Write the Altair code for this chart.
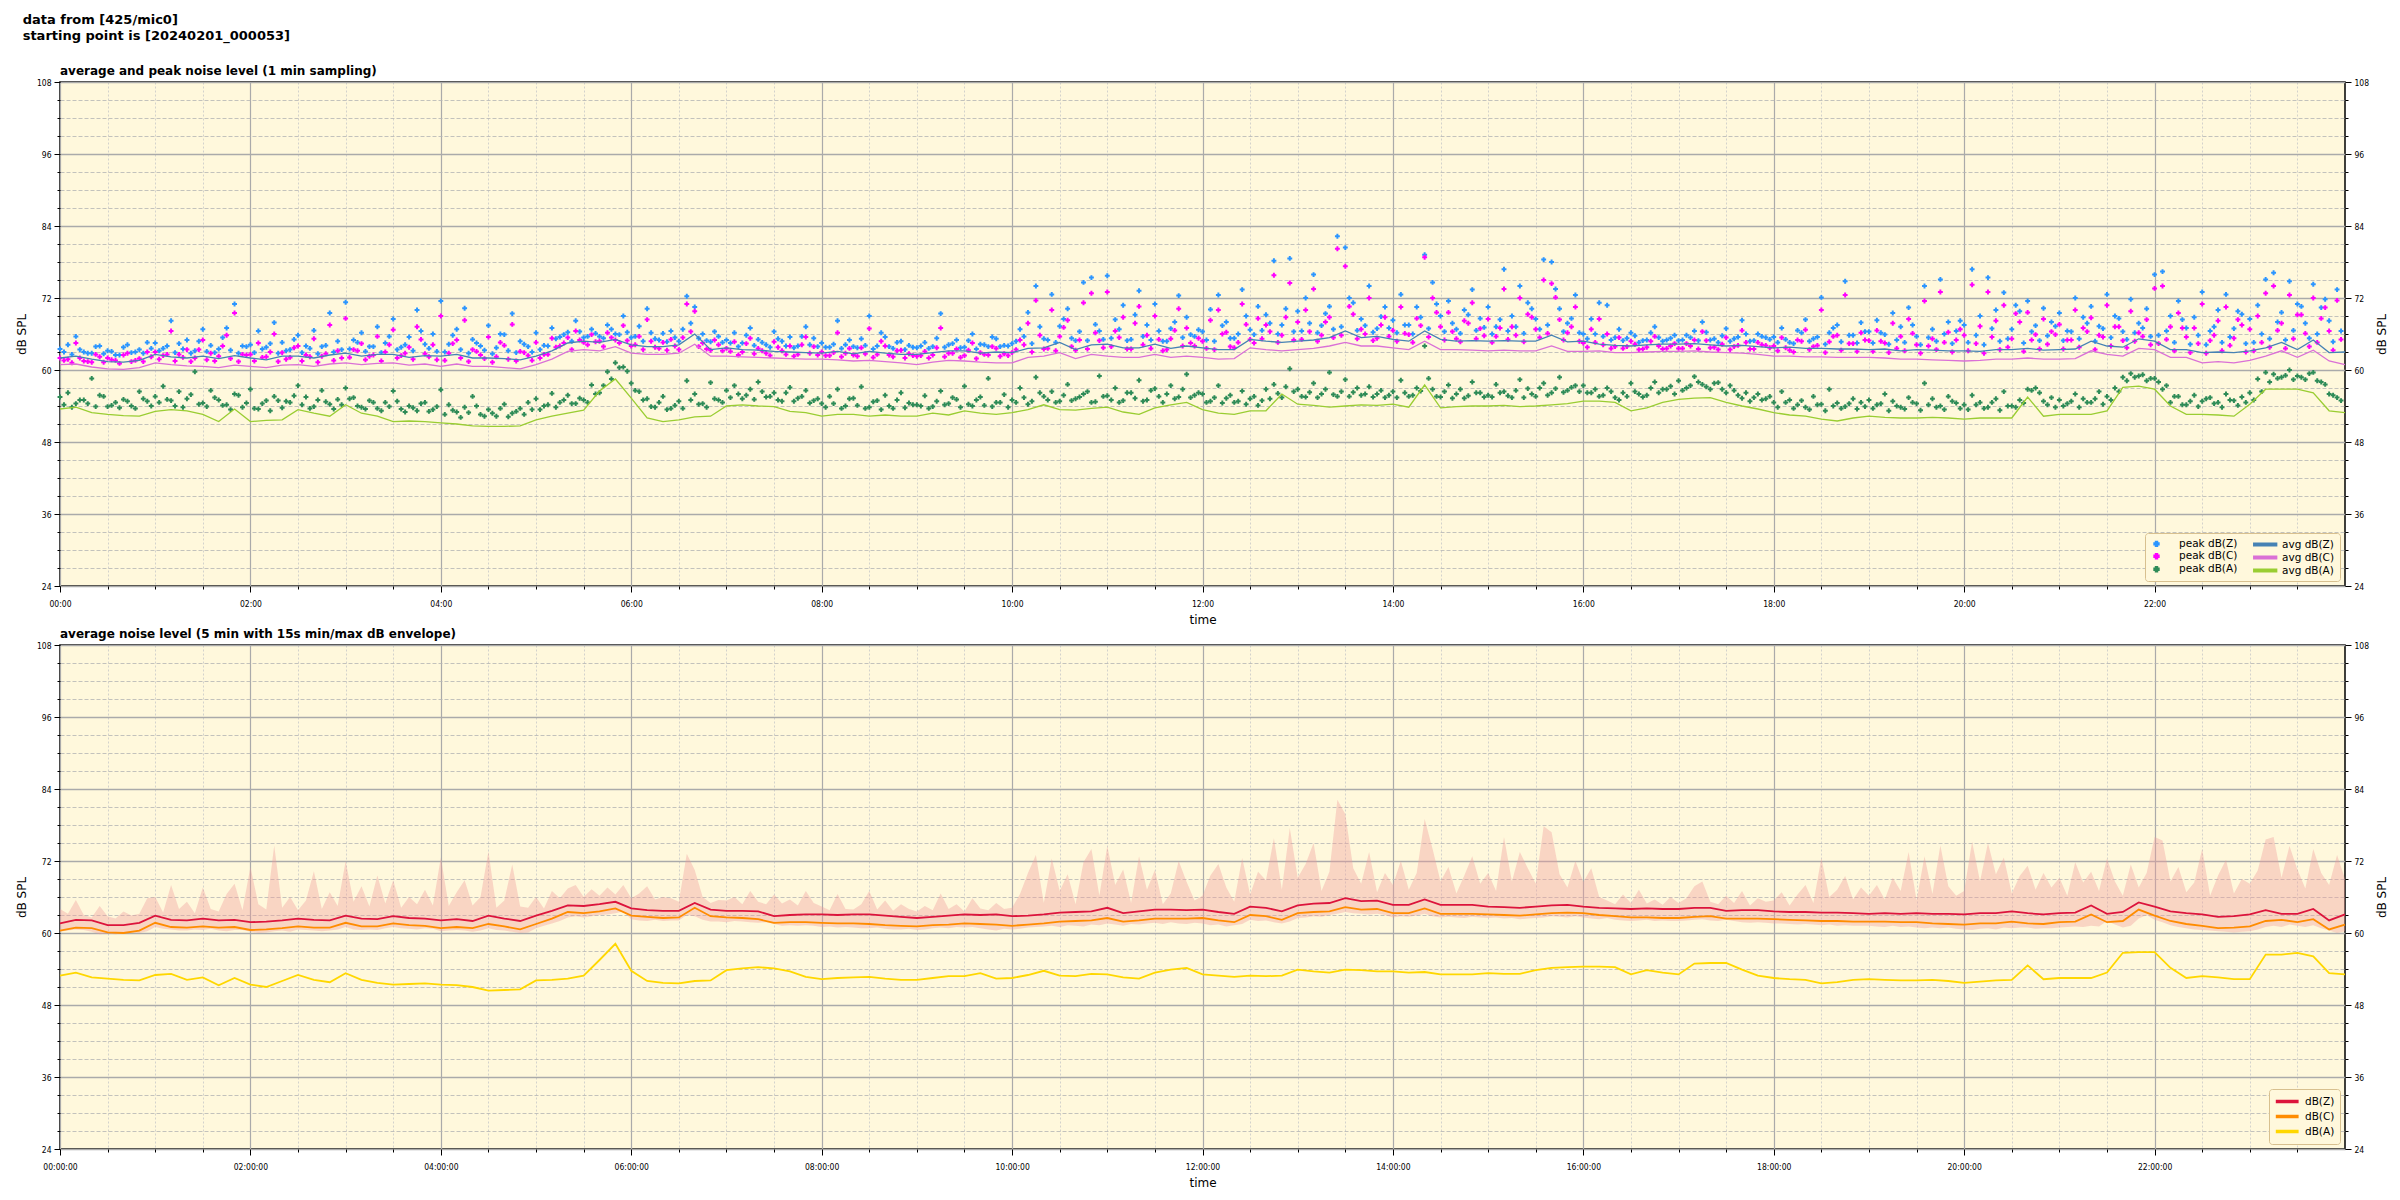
import altair as alt
import pandas as pd

FONT = "DejaVu Sans"
TICKFONT = "DejaVu Sans Condensed, DejaVu Sans"
BG = "#fff8dc"

# ---------------- sampling grids (hours since 00:00) ----------------
HOURS_10MIN = [i / 6 for i in range(145)]
HOURS_5MIN = [i / 12 for i in range(289)]
HOURS_5MIN_SHIFTED = [i / 12 + 1 / 24 for i in range(288)]

# ---------------- top panel: 1-min averages (read every 10 min) ----------------
AVG_Z = [
    62.0, 62.3, 61.8, 61.4, 61.3, 61.6,
    62.6, 62.2, 62.0, 62.3, 61.9, 62.4,
    62.0, 61.7, 62.3, 62.3, 62.0, 62.5,
    62.8, 62.3, 62.6, 62.6, 62.1, 62.4,
    62.3, 62.6, 62.0, 62.0, 61.9, 61.7,
    62.3, 63.2, 64.5, 64.8, 64.6, 65.1,
    64.2, 63.9, 63.9, 64.2, 66.0, 63.4,
    63.7, 63.4, 63.3, 63.1, 63.0, 62.9,
    62.8, 63.1, 62.7, 63.1, 62.8, 62.6,
    62.6, 62.9, 63.2, 63.2, 62.8, 63.0,
    62.9, 63.6, 63.7, 64.6, 63.4, 64.2,
    64.3, 63.7, 63.7, 64.3, 63.6, 64.0,
    63.7, 63.4, 63.4, 65.1, 64.8, 64.6,
    64.8, 65.0, 65.4, 66.5, 65.4, 65.6,
    65.1, 64.8, 66.5, 65.1, 64.8, 64.9,
    64.8, 64.9, 64.8, 64.8, 65.8, 64.7,
    64.8, 64.3, 64.1, 64.0, 64.2, 64.3,
    64.3, 64.4, 64.2, 64.0, 64.1, 63.9,
    63.7, 63.8, 63.6, 63.6, 63.5, 63.5,
    63.4, 63.5, 63.2, 63.4, 63.3, 63.2,
    63.2, 63.1, 63.4, 63.4, 63.6, 63.3,
    63.4, 63.5, 64.8, 64.0, 63.8, 65.2,
    64.8, 63.4, 63.4, 62.9, 63.0, 62.9,
    63.2, 63.7, 64.6, 63.4, 65.0, 62.9,
    63.0,
]
AVG_C = [
    60.9, 61.0, 60.5, 60.2, 60.1, 60.4,
    61.2, 60.9, 60.7, 60.6, 60.4, 60.8,
    60.6, 60.4, 60.8, 60.9, 60.6, 61.0,
    61.2, 60.9, 61.1, 61.2, 60.8, 61.0,
    60.6, 61.0, 60.6, 60.6, 60.4, 60.2,
    60.9, 61.8, 63.1, 63.4, 63.2, 63.9,
    62.8, 62.6, 62.6, 62.8, 64.3, 62.3,
    62.3, 62.2, 62.1, 62.0, 61.9, 61.8,
    61.8, 61.7, 61.5, 61.6, 61.4, 61.2,
    60.9, 61.3, 61.6, 61.5, 61.3, 61.2,
    61.2, 62.1, 62.3, 62.9, 61.9, 62.6,
    62.3, 62.1, 62.1, 62.6, 62.1, 62.3,
    62.1, 61.8, 61.9, 63.7, 63.4, 63.2,
    63.4, 63.6, 64.0, 64.6, 64.0, 64.0,
    63.7, 63.4, 64.8, 63.4, 63.4, 63.3,
    63.2, 63.3, 63.2, 63.2, 64.0, 63.1,
    63.1, 63.2, 62.9, 62.9, 63.0, 63.1,
    63.1, 63.2, 63.0, 62.9, 62.8, 62.6,
    62.3, 62.3, 62.2, 62.2, 62.1, 62.1,
    62.1, 62.0, 61.8, 61.8, 61.7, 61.6,
    61.5, 61.6, 61.8, 61.8, 62.0, 61.8,
    61.8, 61.9, 63.2, 62.6, 62.3, 63.6,
    63.4, 62.1, 62.1, 61.2, 61.4, 61.2,
    61.6, 62.3, 63.2, 62.1, 63.3, 61.5,
    60.9,
]
AVG_A = [
    53.5, 53.8, 52.9, 52.6, 52.4, 52.3,
    53.1, 53.4, 53.2, 52.6, 51.4, 53.5,
    51.4, 51.6, 51.7, 53.4, 52.8, 52.3,
    54.2, 52.8, 52.3, 51.4, 51.5, 51.4,
    51.2, 51.0, 50.7, 50.6, 50.6, 50.7,
    51.7, 52.3, 52.8, 53.3, 56.5, 58.5,
    55.3, 52.0, 51.4, 51.7, 52.2, 52.3,
    54.0, 54.2, 54.0, 53.9, 53.1, 52.9,
    52.3, 52.6, 52.6, 52.3, 52.5, 52.3,
    52.3, 52.8, 52.5, 53.2, 52.8, 52.6,
    52.9, 53.4, 54.2, 53.4, 53.3, 53.6,
    53.8, 53.0, 52.6, 53.7, 54.2, 54.6,
    53.4, 52.8, 52.6, 53.2, 53.2, 56.0,
    54.3, 54.1, 53.8, 54.0, 54.2, 54.1,
    54.3, 53.8, 57.5, 53.7, 53.9, 54.0,
    54.0, 54.1, 53.9, 54.0, 54.2, 54.4,
    54.8, 54.8, 54.6, 53.2, 53.7, 54.6,
    55.1, 55.3, 55.4, 54.6, 54.0, 53.5,
    52.9, 52.5, 52.3, 51.8, 51.5, 52.0,
    52.3, 52.1, 52.0, 52.0, 52.1, 52.0,
    51.8, 52.0, 52.0, 52.0, 55.5, 52.3,
    52.6, 52.6, 52.6, 53.2, 57.1, 57.3,
    56.8, 54.0, 52.6, 52.6, 52.5, 52.3,
    54.3, 56.8, 56.8, 56.8, 56.2, 53.2,
    52.9,
]

# ---------------- top panel: 1-min peaks (read every 5 min, two interleaved sets) ----------------
PEAK_Z = [
    63.5, 64.2, 65.6, 63.0, 62.8, 64.0, 63.2, 62.5, 63.8, 62.9, 63.4, 64.6,
    64.5, 63.6, 68.2, 64.4, 65.0, 63.2, 66.8, 64.1, 63.5, 67.0, 71.0, 64.0,
    64.2, 66.5, 63.8, 67.9, 64.6, 63.4, 65.8, 64.0, 66.6, 63.9, 69.5, 64.8,
    71.3, 65.0, 66.2, 63.9, 67.2, 64.5, 68.5, 63.8, 65.5, 70.0, 64.3, 66.0,
    71.5, 64.3, 66.8, 70.3, 65.1, 64.0, 67.4, 63.7, 65.9, 69.4, 64.8, 63.9,
    66.2, 64.1, 67.0, 65.5, 66.3, 68.2, 65.4, 66.8, 65.6, 67.5, 66.0, 69.0,
    65.4, 67.3, 70.2, 65.2, 66.1, 66.5, 64.8, 72.3, 70.5, 66.0, 64.7, 65.6,
    65.0, 66.2, 64.5, 67.0, 65.1, 64.2, 66.4, 64.8, 65.5, 64.0, 67.2, 65.3,
    64.5, 63.8, 68.2, 64.2, 63.9, 65.2, 69.0, 64.0, 65.5, 63.6, 64.8, 64.1,
    63.7, 64.6, 63.9, 69.4, 64.2, 65.0, 63.8, 66.0, 64.3, 63.9, 65.2, 64.1,
    64.4, 66.8, 69.6, 74.0, 65.2, 72.6, 67.3, 70.2, 64.9, 74.6, 75.4, 66.5,
    75.7, 68.4, 70.8, 65.1, 73.2, 67.5, 71.0, 64.8, 66.9, 72.4, 68.8, 65.6,
    66.4, 70.1, 72.5, 68.0, 65.3, 73.4, 66.7, 70.6, 69.2, 78.2, 67.5, 78.6,
    69.8, 72.0, 75.9, 67.4, 70.6, 82.3, 80.4, 71.2, 68.5, 74.0, 66.9, 70.5,
    68.3, 72.6, 67.5, 70.5, 79.2, 74.6, 69.0, 71.5, 66.8, 70.0, 73.4, 68.6,
    70.5, 67.2, 76.8, 69.0, 74.0, 71.2, 68.5, 78.4, 78.0, 70.2, 67.8, 72.5,
    66.0, 68.5, 71.2, 70.8, 65.4, 64.9, 66.2, 64.6, 65.0, 67.2, 64.8, 65.3,
    64.9, 65.8, 66.5, 68.0, 65.0, 64.6, 66.9, 65.2, 68.3, 64.8, 66.0, 65.4,
    65.5, 67.0, 64.6, 66.6, 68.4, 65.2, 72.1, 66.2, 67.5, 74.8, 65.8, 67.9,
    66.4, 68.3, 65.9, 69.5, 67.2, 70.4, 65.6, 74.0, 66.8, 75.1, 68.0, 66.5,
    67.5, 76.8, 69.0, 75.4, 70.0, 72.9, 66.8, 69.8, 71.5, 67.4, 70.3, 68.0,
    69.5, 66.5, 72.0, 68.8, 70.6, 67.3, 72.6, 69.0, 66.4, 71.8, 67.8, 70.2,
    75.9, 76.4, 69.0, 71.5, 67.0, 68.8, 73.0, 66.5, 70.0, 72.6, 66.9, 69.3,
    68.5, 70.8, 75.1, 76.2, 69.6, 74.8, 71.0, 67.8, 74.3, 70.4, 68.2, 73.4,
]
PEAK_Z2 = [
    63.0, 62.6, 63.4, 62.8, 63.9, 62.7, 63.1, 62.5, 64.2, 63.0, 62.8, 63.6,
    63.2, 64.0, 62.9, 63.5, 62.8, 64.8, 63.1, 62.9, 65.4, 63.3, 62.8, 63.9,
    62.9, 63.5, 64.4, 62.8, 63.2, 65.1, 62.9, 63.6, 62.7, 64.1, 63.0, 63.4,
    63.5, 64.6, 63.1, 63.9, 62.9, 65.6, 63.4, 64.2, 63.2, 66.5, 63.6, 63.1,
    63.0, 65.8, 63.4, 62.8, 64.5, 63.3, 62.7, 66.0, 63.2, 62.9, 64.3, 63.0,
    63.4, 64.0, 65.2, 65.9, 64.8, 66.4, 65.6, 66.1, 65.3, 66.8, 65.9, 66.3,
    65.6, 64.8, 66.2, 65.0, 64.7, 65.4, 66.8, 67.8, 65.3, 64.9, 66.4, 64.6,
    64.5, 63.9, 65.8, 64.1, 64.6, 63.8, 65.2, 64.0, 63.7, 65.6, 64.2, 63.9,
    63.8, 64.3, 63.6, 65.0, 63.7, 64.1, 63.5, 66.2, 63.9, 64.6, 63.4, 63.8,
    64.0, 63.6, 65.3, 63.8, 64.4, 63.7, 64.9, 63.5, 64.2, 65.5, 63.9, 64.0,
    64.8, 65.6, 64.4, 67.2, 65.0, 64.6, 68.5, 65.3, 66.4, 64.9, 67.6, 65.1,
    65.3, 66.8, 64.9, 69.2, 65.6, 65.0, 66.5, 64.8, 68.0, 65.4, 65.9, 66.7,
    65.0, 64.8, 67.4, 65.3, 66.0, 69.0, 65.9, 66.6, 67.8, 66.0, 70.2, 66.4,
    66.5, 67.8, 66.2, 69.4, 66.8, 67.2, 72.0, 66.6, 67.4, 66.3, 68.9, 67.0,
    66.2, 67.5, 66.0, 68.8, 66.9, 71.0, 66.4, 67.8, 66.1, 69.2, 66.6, 67.1,
    66.0, 68.4, 66.5, 67.2, 66.1, 70.2, 66.8, 67.5, 73.5, 66.4, 68.6, 66.2,
    65.2, 66.0, 65.6, 65.0, 66.8, 65.3, 65.7, 64.9, 66.2, 65.4, 65.0, 65.8,
    65.0, 65.4, 64.9, 66.3, 65.2, 65.7, 64.8, 65.5, 66.0, 64.9, 65.6, 65.1,
    64.6, 65.1, 64.4, 66.2, 64.8, 65.5, 64.3, 67.0, 64.7, 65.8, 64.5, 66.4,
    64.5, 66.2, 64.3, 65.0, 64.6, 67.5, 64.2, 65.4, 64.8, 66.0, 64.4, 68.2,
    64.6, 65.8, 64.2, 66.9, 64.8, 65.2, 70.8, 64.5, 66.4, 64.9, 65.7, 67.3,
    64.9, 66.4, 65.2, 67.8, 64.8, 66.9, 65.4, 68.6, 65.1, 66.2, 67.0, 65.6,
    65.8, 66.5, 64.6, 68.4, 64.3, 65.8, 64.2, 67.2, 64.6, 65.5, 69.8, 64.4,
    64.6, 66.0, 65.2, 68.0, 65.0, 66.6, 70.6, 65.3, 66.0, 71.8, 64.7, 66.5,
]
PEAK_C = [
    62.0, 61.8, 64.5, 61.5, 61.3, 62.2, 62.0, 61.6, 62.5, 61.4, 61.9, 63.0,
    63.0, 62.4, 66.5, 62.6, 63.4, 62.0, 65.0, 62.8, 62.3, 65.8, 69.5, 62.6,
    62.6, 64.5, 62.2, 66.0, 62.9, 62.1, 64.0, 62.5, 65.2, 62.3, 67.5, 63.2,
    68.6, 63.4, 64.4, 62.3, 65.6, 63.0, 66.7, 62.4, 63.8, 67.2, 62.7, 64.2,
    69.0, 62.8, 65.0, 68.3, 63.4, 62.5, 65.5, 62.2, 64.1, 67.6, 63.1, 62.4,
    64.6, 62.6, 65.3, 64.0, 65.4, 66.5, 64.6, 65.9, 64.8, 66.2, 65.0, 67.4,
    64.0, 65.6, 68.4, 63.8, 64.6, 65.1, 63.4, 71.0, 69.8, 64.5, 63.3, 64.2,
    63.6, 64.7, 63.0, 65.3, 63.6, 62.8, 64.7, 63.2, 64.0, 62.6, 65.5, 63.9,
    63.0, 62.4, 66.2, 62.8, 62.5, 63.7, 66.9, 62.6, 64.0, 62.2, 63.3, 62.7,
    62.3, 63.1, 62.5, 67.0, 62.8, 63.5, 62.4, 64.5, 62.9, 62.5, 63.6, 62.7,
    62.9, 65.0, 67.8, 71.6, 63.5, 70.0, 65.6, 68.3, 63.3, 71.2, 72.8, 64.9,
    73.0, 66.5, 68.8, 63.5, 70.6, 65.8, 69.0, 63.2, 65.2, 70.2, 67.0, 64.0,
    64.8, 68.3, 70.0, 66.3, 63.7, 71.0, 65.1, 68.6, 67.5, 75.8, 65.8, 74.5,
    68.0, 70.0, 73.5, 65.8, 68.8, 80.2, 77.3, 69.3, 66.8, 72.0, 65.3, 68.8,
    66.6, 70.5, 65.9, 68.6, 78.8, 72.0, 67.2, 69.6, 65.2, 68.2, 71.2, 66.9,
    68.5, 65.6, 73.5, 67.2, 72.0, 69.3, 66.8, 75.0, 74.4, 68.4, 66.2, 70.5,
    64.5, 66.8, 68.5, 66.0, 63.9, 63.6, 64.8, 63.4, 63.8, 65.6, 63.5, 64.0,
    63.6, 64.4, 65.0, 66.4, 63.7, 63.4, 65.4, 63.9, 66.6, 63.5, 64.6, 64.1,
    64.0, 65.4, 63.3, 65.0, 66.7, 63.9, 70.0, 64.7, 65.8, 72.5, 64.4, 66.2,
    64.9, 66.6, 64.5, 67.8, 65.6, 68.5, 64.2, 71.5, 65.2, 73.0, 66.3, 65.0,
    65.8, 74.2, 67.3, 73.0, 68.2, 70.8, 65.2, 68.0, 69.6, 65.9, 68.5, 66.4,
    67.6, 65.0, 70.0, 67.0, 68.7, 65.8, 70.8, 67.2, 64.9, 69.8, 66.2, 68.4,
    73.6, 74.0, 67.2, 69.5, 65.5, 67.0, 71.0, 64.9, 68.2, 70.5, 65.3, 67.5,
    66.8, 69.0, 72.8, 74.0, 67.8, 72.5, 69.2, 66.1, 72.0, 68.6, 66.5, 71.6,
]
PEAK_C2 = [
    61.6, 61.2, 62.0, 61.4, 62.6, 61.3, 61.7, 61.1, 62.8, 61.6, 61.4, 62.2,
    61.8, 62.6, 61.5, 62.1, 61.4, 63.4, 61.7, 61.5, 64.0, 61.9, 61.4, 62.5,
    61.5, 62.1, 63.0, 61.4, 61.8, 63.7, 61.5, 62.2, 61.3, 62.7, 61.6, 62.0,
    62.1, 63.2, 61.7, 62.5, 61.5, 64.2, 62.0, 62.8, 61.8, 65.1, 62.2, 61.7,
    61.6, 64.4, 62.0, 61.4, 63.1, 61.9, 61.3, 64.6, 61.8, 61.5, 62.9, 61.6,
    62.0, 62.6, 63.8, 64.5, 63.4, 65.0, 64.2, 64.7, 63.9, 65.4, 64.5, 64.9,
    64.2, 63.4, 64.8, 63.6, 63.3, 64.0, 65.4, 66.4, 63.9, 63.5, 65.0, 63.2,
    63.1, 62.5, 64.4, 62.7, 63.2, 62.4, 63.8, 62.6, 62.3, 64.2, 62.8, 62.5,
    62.4, 62.9, 62.2, 63.6, 62.3, 62.7, 62.1, 64.8, 62.5, 63.2, 62.0, 62.4,
    62.4, 62.0, 63.7, 62.2, 62.8, 62.1, 63.3, 61.9, 62.6, 63.9, 62.3, 62.4,
    63.4, 64.2, 63.0, 65.8, 63.6, 63.2, 67.1, 63.9, 65.0, 63.5, 66.2, 63.7,
    63.9, 65.4, 63.5, 67.8, 64.2, 63.6, 65.1, 63.4, 66.6, 64.0, 64.5, 65.3,
    63.6, 63.4, 66.0, 63.9, 64.6, 67.6, 64.5, 65.2, 66.4, 64.6, 68.8, 65.0,
    65.1, 66.4, 64.8, 68.0, 65.4, 65.8, 70.6, 65.2, 66.0, 64.9, 67.5, 65.6,
    64.8, 66.1, 64.6, 67.4, 65.5, 69.6, 65.0, 66.4, 64.7, 67.8, 65.2, 65.7,
    64.6, 67.0, 65.1, 65.8, 64.7, 68.8, 65.4, 66.1, 72.1, 65.0, 67.2, 64.8,
    63.8, 64.6, 64.2, 63.6, 65.4, 63.9, 64.3, 63.5, 64.8, 64.0, 63.6, 64.4,
    63.6, 64.0, 63.5, 64.9, 63.8, 64.3, 63.4, 64.1, 64.6, 63.5, 64.2, 63.7,
    63.2, 63.7, 63.0, 64.8, 63.4, 64.1, 62.9, 65.6, 63.3, 64.4, 63.1, 65.0,
    63.1, 64.8, 62.9, 63.6, 63.2, 66.1, 62.8, 64.0, 63.4, 64.6, 63.0, 66.8,
    63.2, 64.4, 62.8, 65.5, 63.4, 63.8, 69.4, 63.1, 65.0, 63.5, 64.3, 65.9,
    63.5, 65.0, 63.8, 66.4, 63.4, 65.5, 64.0, 67.2, 63.7, 64.8, 65.6, 64.2,
    64.4, 65.1, 63.2, 67.0, 62.9, 64.4, 62.8, 65.8, 63.2, 64.1, 68.4, 63.0,
    63.2, 64.6, 63.8, 66.6, 63.6, 65.2, 69.2, 63.9, 64.6, 70.4, 63.3, 65.1,
]
PEAK_A = [
    55.5, 56.2, 54.4, 55.0, 58.6, 55.8, 53.9, 54.6, 55.1, 54.0, 56.4, 54.8,
    55.6, 57.3, 54.9, 56.4, 55.2, 59.7, 54.5, 56.6, 55.0, 54.2, 56.0, 53.8,
    56.8, 53.5, 54.9, 55.6, 53.7, 54.6, 57.4, 55.5, 53.9, 56.6, 54.3, 55.1,
    57.0, 55.4, 53.8, 54.9, 53.6, 54.6, 56.5, 53.5, 54.0, 53.2, 54.6, 53.4,
    56.7, 54.2, 53.0, 53.8, 55.6, 52.6, 53.4, 52.3, 54.3, 52.8, 53.6, 54.6,
    55.2, 54.0, 56.1, 54.6, 55.8, 54.4, 55.0, 57.5, 56.2, 59.7, 61.2, 60.5,
    57.8, 56.4, 55.2, 53.8, 55.6, 53.6, 54.8, 58.2, 56.0, 54.4, 57.9, 55.0,
    56.6, 57.4, 55.2, 56.8, 58.0, 55.5, 56.2, 54.8, 57.1, 55.3, 56.6, 54.9,
    54.4, 55.6, 56.8, 54.0, 55.3, 57.2, 53.8, 54.9, 55.8, 53.6, 56.2, 54.5,
    54.2, 55.7, 53.9, 56.5, 54.4, 55.1, 57.3, 54.0, 55.5, 58.6, 54.6, 55.9,
    55.0, 57.0, 54.3, 58.8, 55.6, 56.4, 54.8, 57.6, 55.2, 56.0, 54.6, 59.0,
    55.7, 57.0, 54.9, 56.2, 58.3, 55.0, 56.9, 54.6, 57.4, 55.5, 59.3, 55.8,
    56.0, 54.8, 57.4, 55.3, 54.6, 56.5, 55.2, 54.1, 56.8, 57.6, 55.4, 60.2,
    56.8, 55.5, 57.8, 56.0, 59.6, 55.6, 58.4, 56.3, 55.8, 57.2, 56.0, 55.4,
    56.4, 58.3, 55.6, 57.0, 64.0, 56.8, 55.5, 57.5, 56.0, 55.3, 58.0, 56.2,
    55.8, 57.6, 56.4, 55.4, 58.4, 56.9, 55.6, 57.8, 56.2, 58.8, 56.6, 57.4,
    57.4, 56.2, 55.6, 57.0, 55.4, 56.2, 57.8, 56.0, 55.8, 58.0, 56.8, 57.3,
    58.2, 57.0, 58.9, 57.6, 56.8, 57.9, 56.2, 56.6, 55.3, 54.8, 56.0, 55.2,
    54.6, 56.4, 55.0, 54.2, 53.8, 55.6, 54.3, 56.8, 54.5, 53.9, 55.2, 54.6,
    55.0, 54.2, 56.0, 54.8, 53.8, 55.4, 54.4, 57.8, 55.2, 54.0, 55.6, 54.5,
    54.2, 55.8, 54.6, 53.8, 55.2, 56.4, 54.0, 55.0, 56.8, 57.0, 54.8, 55.4,
    55.0, 54.4, 56.0, 55.2, 54.6, 56.4, 55.6, 57.0, 58.8, 59.4, 59.0, 58.2,
    58.6, 56.8, 54.6, 55.6, 54.2, 55.8, 54.8, 55.4, 54.6, 56.0, 54.9, 55.5,
    56.2, 58.5, 59.6, 59.3, 58.8, 60.0, 59.0, 58.4, 59.6, 58.0, 56.0, 55.4,
]
PEAK_A2 = [
    54.2, 53.8, 55.0, 54.4, 53.9, 55.6, 54.1, 53.7, 54.8, 53.6, 55.2, 54.0,
    54.6, 55.1, 54.0, 53.8, 55.9, 54.3, 53.9, 55.4, 54.1, 53.4, 55.8, 54.5,
    53.6, 54.4, 53.2, 54.9, 54.8, 55.7, 54.2, 53.6, 55.0, 54.7, 53.5, 54.2,
    55.2, 54.0, 53.5, 54.6, 53.2, 53.9, 54.8, 53.0, 53.7, 54.4, 53.1, 53.9,
    52.6, 53.3, 52.1, 52.9, 54.0, 52.3, 52.8, 53.6, 52.2, 53.1, 52.6, 53.4,
    53.4, 54.2, 53.8, 55.0, 54.4, 55.3, 54.6, 56.0, 57.4, 58.5, 60.4, 59.8,
    56.6, 55.0, 53.9, 54.6, 53.4, 54.1, 53.6, 55.0, 54.3, 53.8, 55.2, 54.6,
    55.4, 56.0, 55.8, 55.1, 56.4, 55.6, 55.0, 56.2, 54.8, 55.6, 54.5, 55.2,
    53.8, 54.4, 53.6, 55.2, 54.1, 53.6, 54.7, 53.4, 54.0, 55.0, 53.7, 54.2,
    54.0, 53.6, 54.8, 54.2, 55.4, 53.8, 54.3, 55.0, 54.1, 53.9, 54.6, 53.8,
    54.6, 55.4, 54.8, 56.2, 55.0, 54.6, 55.8, 54.9, 55.5, 56.4, 54.7, 55.6,
    55.0, 54.6, 56.2, 55.3, 54.8, 56.6, 55.6, 56.0, 55.2, 56.8, 55.4, 56.2,
    54.6, 55.4, 54.5, 55.8, 54.8, 54.3, 55.6, 54.9, 55.2, 56.1, 57.2, 56.4,
    55.6, 56.3, 55.4, 56.8, 55.9, 56.4, 55.6, 57.0, 56.0, 55.5, 56.6, 55.8,
    55.4, 56.2, 55.8, 56.5, 58.6, 55.6, 56.4, 55.3, 56.8, 55.7, 56.2, 55.5,
    55.5, 56.2, 55.7, 56.6, 55.4, 56.0, 57.0, 55.8, 56.9, 56.3, 57.1, 56.4,
    56.2, 56.8, 55.8, 56.4, 55.0, 55.6, 56.4, 55.5, 57.0, 56.2, 56.8, 56.0,
    56.6, 57.4, 58.0, 57.2, 57.8, 56.8, 57.4, 55.8, 56.2, 55.4, 55.0, 55.6,
    53.8, 54.6, 53.6, 54.9, 53.4, 54.2, 53.2, 54.0, 53.6, 54.4, 53.5, 53.9,
    53.6, 54.4, 53.2, 54.0, 53.5, 54.6, 53.3, 54.2, 53.8, 53.4, 54.8, 53.6,
    53.4, 54.2, 53.6, 54.6, 53.3, 54.0, 53.8, 54.5, 56.6, 56.2, 54.2, 53.8,
    54.0, 54.8, 53.8, 54.6, 55.2, 54.3, 55.0, 56.4, 58.2, 58.8, 59.2, 58.6,
    58.0, 57.4, 55.6, 54.2, 54.8, 53.9, 55.2, 54.4, 53.8, 55.0, 54.1, 54.6,
    55.0, 56.4, 58.0, 58.6, 59.1, 58.4, 58.8, 59.4, 58.2, 57.6, 55.8, 54.9,
]

# ---------------- bottom panel: 5-min averages (read every 10 min) ----------------
B_Z = [
    61.6, 62.2, 62.1, 61.3, 61.3, 61.7,
    62.9, 62.2, 62.1, 62.4, 62.1, 62.2,
    61.8, 61.9, 62.1, 62.4, 62.2, 62.1,
    62.9, 62.4, 62.3, 62.8, 62.5, 62.4,
    62.1, 62.3, 62.0, 62.9, 62.4, 62.0,
    62.9, 63.7, 64.6, 64.5, 64.8, 65.2,
    64.1, 63.8, 63.7, 63.7, 65.0, 63.9,
    63.7, 63.7, 63.6, 62.8, 63.0, 63.1,
    63.1, 63.0, 63.1, 63.1, 62.9, 62.7,
    62.5, 62.7, 62.9, 63.1, 63.0, 63.1,
    62.8, 62.9, 63.1, 63.4, 63.5, 63.6,
    64.2, 63.3, 63.6, 63.9, 63.9, 63.8,
    63.9, 63.5, 63.2, 64.4, 64.2, 63.6,
    64.6, 64.9, 65.0, 65.8, 65.3, 65.4,
    64.7, 64.7, 65.6, 64.7, 64.7, 64.7,
    64.4, 64.3, 64.2, 64.4, 64.6, 64.7,
    64.4, 64.2, 64.1, 64.0, 64.1, 64.0,
    64.0, 64.2, 64.2, 63.7, 63.8, 63.8,
    63.6, 63.5, 63.5, 63.4, 63.4, 63.3,
    63.2, 63.3, 63.2, 63.3, 63.2, 63.2,
    63.1, 63.3, 63.3, 63.6, 63.3, 63.1,
    63.3, 63.4, 64.6, 63.2, 63.5, 65.1,
    64.4, 63.6, 63.3, 63.1, 62.7, 62.8,
    63.1, 63.8, 63.2, 63.2, 64.0, 62.1,
    63.1,
]
B_C = [
    60.4, 60.9, 60.8, 60.1, 60.0, 60.4,
    61.7, 61.0, 60.9, 61.1, 60.9, 61.0,
    60.5, 60.6, 60.8, 61.1, 60.9, 60.9,
    61.7, 61.1, 61.1, 61.6, 61.3, 61.2,
    60.8, 61.0, 60.8, 61.5, 61.1, 60.6,
    61.5, 62.4, 63.5, 63.3, 63.6, 64.1,
    62.9, 62.7, 62.5, 62.6, 64.2, 62.8,
    62.6, 62.5, 62.3, 61.7, 61.8, 61.8,
    61.7, 61.6, 61.6, 61.5, 61.3, 61.2,
    61.1, 61.3, 61.4, 61.6, 61.5, 61.4,
    61.2, 61.4, 61.6, 61.9, 62.0, 62.1,
    62.5, 61.9, 62.1, 62.4, 62.4, 62.4,
    62.5, 62.1, 61.8, 63.0, 62.8, 62.2,
    63.3, 63.5, 63.6, 64.3, 63.9, 64.0,
    63.3, 63.3, 64.1, 63.2, 63.2, 63.2,
    63.1, 63.0, 62.9, 63.1, 63.3, 63.4,
    63.3, 63.0, 62.8, 62.6, 62.6, 62.5,
    62.5, 62.7, 62.8, 62.4, 62.4, 62.4,
    62.3, 62.2, 62.1, 62.0, 62.0, 61.9,
    61.9, 61.9, 61.8, 61.8, 61.6, 61.5,
    61.4, 61.6, 61.6, 61.9, 61.6, 61.5,
    61.8, 61.9, 63.1, 61.8, 62.0, 63.9,
    62.9, 62.0, 61.5, 61.2, 60.8, 60.9,
    61.1, 62.0, 62.2, 61.8, 62.3, 60.6,
    61.4,
]
B_A = [
    52.9, 53.4, 52.6, 52.4, 52.2, 52.1,
    53.0, 53.2, 52.2, 52.6, 51.3, 52.5,
    51.4, 51.0, 52.0, 53.0, 52.2, 51.8,
    53.3, 52.2, 51.7, 51.4, 51.5, 51.6,
    51.4, 51.3, 51.0, 50.4, 50.5, 50.6,
    52.1, 52.2, 52.4, 52.9, 55.5, 58.2,
    53.7, 52.0, 51.7, 51.6, 52.0, 52.1,
    53.8, 54.1, 54.3, 54.1, 53.6, 52.7,
    52.3, 52.5, 52.6, 52.7, 52.4, 52.2,
    52.2, 52.5, 52.8, 52.8, 53.3, 52.4,
    52.5, 53.0, 53.7, 52.9, 52.8, 53.2,
    53.1, 52.6, 52.4, 53.4, 53.9, 54.2,
    53.1, 52.9, 52.7, 52.9, 52.8, 52.9,
    53.9, 53.6, 53.4, 53.9, 53.8, 53.6,
    53.6, 53.4, 53.5, 53.1, 53.1, 53.1,
    53.3, 53.2, 53.2, 53.8, 54.2, 54.3,
    54.4, 54.4, 54.3, 53.1, 53.8, 53.4,
    53.1, 54.9, 55.0, 55.0, 53.9, 52.9,
    52.5, 52.3, 52.2, 51.6, 51.8, 52.2,
    52.3, 52.2, 52.1, 52.1, 52.2, 52.0,
    51.7, 51.9, 52.1, 52.2, 54.6, 52.3,
    52.5, 52.5, 52.5, 53.4, 56.7, 56.8,
    56.8, 54.2, 52.5, 52.8, 52.6, 52.3,
    52.3, 56.4, 56.4, 56.7, 56.1, 53.3,
    53.1,
]

# ---------------- bottom panel: 15 s min/max envelope (read every 5 min) ----------------
ENV_MAX = [
    64.0, 63.2, 65.5, 63.0, 62.6, 64.5, 62.8, 62.4, 63.6, 62.9, 63.2, 65.8,
    66.0, 63.4, 68.0, 64.0, 65.2, 63.3, 67.6, 64.0, 63.6, 66.5, 68.2, 63.8,
    71.0, 64.8, 63.9, 74.6, 64.2, 66.0, 63.8, 65.4, 70.3, 64.0, 66.8, 64.5,
    72.0, 65.2, 67.8, 64.4, 69.6, 64.9, 68.8, 64.2, 66.0, 64.8, 67.2, 64.6,
    72.6, 64.5, 66.8, 68.8, 64.6, 66.0, 73.6, 64.2, 65.4, 71.4, 64.4, 64.2,
    66.0, 64.1, 67.0, 65.8, 67.4, 68.0, 66.0, 67.3, 66.2, 67.6, 66.4, 68.0,
    65.8, 66.6, 67.8, 65.6, 66.0, 65.8, 65.2, 73.2, 70.5, 66.0, 65.0, 65.5,
    65.4, 66.0, 64.8, 67.0, 65.2, 64.8, 66.4, 64.9, 65.6, 64.6, 67.0, 65.0,
    64.4, 63.8, 66.5, 64.0, 63.9, 64.8, 67.0, 63.9, 65.4, 63.7, 64.8, 64.0,
    63.6, 64.5, 63.8, 66.6, 64.0, 64.8, 63.6, 65.8, 64.1, 63.8, 65.0, 64.0,
    64.2, 66.5, 70.0, 73.0, 65.0, 72.4, 67.0, 69.8, 64.8, 71.8, 74.0, 66.2,
    74.5, 68.0, 70.6, 65.0, 72.8, 67.2, 70.5, 64.8, 66.6, 72.0, 68.5, 65.4,
    66.2, 69.6, 71.5, 67.6, 65.2, 72.5, 66.4, 70.2, 68.8, 75.8, 67.2, 77.5,
    69.2, 71.5, 75.0, 67.0, 70.2, 82.2, 79.8, 70.8, 68.2, 73.5, 66.8, 70.0,
    68.0, 72.0, 67.2, 70.0, 79.0, 74.0, 68.6, 71.0, 66.6, 69.6, 72.8, 68.2,
    70.0, 67.0, 76.0, 68.6, 73.5, 70.8, 68.2, 77.8, 76.8, 69.8, 67.6, 72.0,
    68.5, 70.8, 66.0, 65.4, 64.8, 66.4, 65.0, 67.2, 64.9, 65.6, 64.7, 66.0,
    65.0, 65.8, 67.8, 68.6, 65.2, 64.8, 66.2, 65.0, 67.0, 64.6, 65.8, 65.2,
    65.4, 66.8, 64.6, 66.4, 68.0, 65.0, 72.5, 66.0, 67.2, 69.5, 65.6, 67.6,
    66.2, 68.0, 65.6, 69.2, 67.0, 73.5, 65.4, 72.8, 66.5, 74.6, 67.8, 66.2,
    67.0, 75.2, 68.6, 75.0, 69.8, 72.6, 66.6, 69.5, 71.2, 67.2, 70.0, 67.6,
    69.2, 66.2, 71.8, 68.4, 70.2, 67.0, 72.4, 68.6, 66.2, 71.4, 67.6, 70.0,
    76.0, 75.4, 68.6, 71.0, 66.8, 68.4, 74.0, 66.2, 69.6, 72.2, 66.6, 69.0,
    68.2, 70.4, 75.6, 76.0, 69.2, 74.5, 70.6, 67.4, 74.0, 70.0, 68.0, 73.0,
    69.0,
]
ENV_MIN = [
    60.2, 60.4, 60.6, 60.5, 60.2, 59.8, 59.9, 59.8, 60.0, 60.1, 60.0, 60.3,
    61.0, 60.7, 60.6, 60.4, 60.4, 60.6, 60.5, 60.7, 60.4, 60.3, 60.5, 60.5,
    60.2, 60.0, 60.1, 60.3, 60.4, 60.2, 60.6, 60.5, 60.4, 60.3, 60.4, 60.6,
    61.0, 60.6, 60.5, 60.6, 60.5, 60.8, 61.0, 60.8, 60.7, 60.6, 60.8, 60.7,
    60.3, 60.4, 60.5, 60.4, 60.2, 60.4, 60.8, 60.5, 60.4, 60.2, 60.0, 60.1,
    60.8, 61.2, 61.6, 62.0, 62.6, 62.8, 62.6, 62.8, 63.0, 63.1, 63.3, 63.6,
    62.3, 62.1, 62.0, 62.2, 62.0, 62.1, 62.1, 63.0, 62.8, 62.2, 61.9, 61.9,
    61.8, 62.0, 61.9, 61.8, 61.7, 61.8, 61.5, 61.2, 61.3, 61.2, 61.3, 61.2,
    61.0, 61.1, 60.9, 61.0, 60.9, 60.8, 60.8, 60.9, 60.7, 60.6, 60.6, 60.7,
    60.5, 60.6, 60.8, 60.9, 60.8, 61.0, 60.9, 61.0, 60.8, 60.6, 60.4, 60.7,
    60.6, 60.7, 60.9, 61.0, 61.1, 61.2, 61.0, 61.3, 61.2, 61.1, 61.4, 61.3,
    61.6, 61.4, 61.2, 61.5, 61.4, 61.6, 61.7, 61.5, 61.8, 61.6, 61.5, 61.7,
    61.6, 61.3, 61.4, 61.1, 61.3, 61.5, 62.2, 62.0, 62.1, 61.8, 61.6, 61.9,
    62.5, 62.6, 62.8, 62.7, 63.0, 63.2, 63.5, 63.3, 63.2, 63.1, 63.2, 63.0,
    62.6, 62.8, 62.7, 62.9, 63.2, 62.8, 62.6, 62.7, 62.6, 62.5, 62.7, 62.6,
    62.5, 62.6, 62.4, 62.5, 62.3, 62.4, 62.5, 62.6, 62.8, 62.7, 62.6, 62.8,
    62.6, 62.4, 62.3, 62.5, 62.2, 62.1, 62.0, 62.1, 62.2, 62.0, 62.1, 62.0,
    62.0, 62.1, 62.2, 62.3, 62.1, 62.0, 62.2, 62.0, 61.8, 61.7, 61.8, 61.7,
    61.6, 61.6, 61.5, 61.4, 61.5, 61.4, 61.3, 61.4, 61.2, 61.3, 61.2, 61.2,
    61.2, 61.1, 61.0, 61.2, 61.0, 61.1, 60.9, 60.8, 60.9, 60.8, 60.9, 60.7,
    60.6, 60.5, 60.7, 60.8, 60.6, 60.9, 60.8, 60.9, 60.9, 60.7, 60.8, 60.8,
    60.9, 61.0, 61.1, 61.0, 61.2, 61.1, 62.0, 61.4, 60.9, 61.2, 62.4, 63.0,
    62.2, 61.8, 61.3, 61.0, 60.8, 60.6, 60.5, 60.4, 60.3, 60.2, 60.1, 60.2,
    60.3, 60.6, 61.0, 61.2, 61.0, 61.4, 61.2, 61.0, 61.3, 60.8, 60.4, 60.0,
    60.3,
]

# ---------------- series names, colours, ticks ----------------
# legend is filled column by column: peaks first, then averages
TOP_DOMAIN = ["peak dB(Z)", "peak dB(C)", "peak dB(A)", "avg dB(Z)", "avg dB(C)", "avg dB(A)"]
TOP_COLORS = ["#2b95ff", "#ff00ff", "#2e8b57", "#4682b4", "#da70d6", "#9acd32"]
LINE_SHAPE = "M-1,-0.24L3,-0.24L3,0.24L-1,0.24Z"
TOP_SHAPES = ["cross", "cross", "cross", LINE_SHAPE, LINE_SHAPE, LINE_SHAPE]
TOP_SIZES = [24, 24, 24, 130, 130, 130]

BOT_DOMAIN = ["dB(Z)", "dB(C)", "dB(A)"]
BOT_COLORS = ["#dc143c", "#ff8c00", "#ffd700"]
BOT_SYMBOL = "M-1,0L3,0"

X_MAJOR = [0, 2, 4, 6, 8, 10, 12, 14, 16, 18, 20, 22]
X_MINOR = [k * 0.5 for k in range(1, 48) if k % 4 != 0]
Y_MAJOR = [24, 36, 48, 60, 72, 84, 96, 108]
Y_MINOR = [v for v in range(27, 108, 3) if v % 12 != 0]

W, H = 2285, 504

# ---------------- data frames ----------------
avg_df = pd.concat([
    pd.DataFrame({"hour": HOURS_10MIN, "db": AVG_Z, "series": "avg dB(Z)"}),
    pd.DataFrame({"hour": HOURS_10MIN, "db": AVG_C, "series": "avg dB(C)"}),
    pd.DataFrame({"hour": HOURS_10MIN, "db": AVG_A, "series": "avg dB(A)"}),
], ignore_index=True)
peak_df = pd.concat([
    pd.DataFrame({"hour": HOURS_5MIN[:288], "db": PEAK_Z, "series": "peak dB(Z)"}),
    pd.DataFrame({"hour": HOURS_5MIN_SHIFTED, "db": PEAK_Z2, "series": "peak dB(Z)"}),
    pd.DataFrame({"hour": HOURS_5MIN[:288], "db": PEAK_C, "series": "peak dB(C)"}),
    pd.DataFrame({"hour": HOURS_5MIN_SHIFTED, "db": PEAK_C2, "series": "peak dB(C)"}),
    pd.DataFrame({"hour": HOURS_5MIN[:288], "db": PEAK_A, "series": "peak dB(A)"}),
    pd.DataFrame({"hour": HOURS_5MIN_SHIFTED, "db": PEAK_A2, "series": "peak dB(A)"}),
], ignore_index=True)
bot_df = pd.concat([
    pd.DataFrame({"hour": HOURS_10MIN, "db": B_Z, "chan": "dB(Z)"}),
    pd.DataFrame({"hour": HOURS_10MIN, "db": B_C, "chan": "dB(C)"}),
    pd.DataFrame({"hour": HOURS_10MIN, "db": B_A, "chan": "dB(A)"}),
], ignore_index=True)
env_df = pd.DataFrame({"hour": HOURS_5MIN, "lo": ENV_MIN, "hi": ENV_MAX})

XS = alt.Scale(domain=[0, 24], nice=False, zero=False)
YS = alt.Scale(domain=[24, 108], nice=False, zero=False)


def axis_layers(df, label_expr):
    base = alt.Chart(df).mark_line(opacity=0)
    minor = base.encode(
        x=alt.X("hour:Q", scale=XS, axis=alt.Axis(
            values=X_MINOR, labels=False, title=None, tickSize=3, domain=False,
            grid=True, gridColor="#c8c8c8", gridDash=[2, 2], gridWidth=0.8,
            tickColor="black", orient="bottom")),
        y=alt.Y("db:Q", scale=YS, axis=alt.Axis(
            values=Y_MINOR, labels=False, title=None, tickSize=3, domain=False,
            grid=True, gridColor="#b4b4b4", gridDash=[4, 2], gridWidth=0.8,
            tickColor="black", orient="left")),
    )
    minor_r = base.encode(
        x=alt.X("hour:Q", scale=XS, axis=None),
        y=alt.Y("db:Q", scale=YS, axis=alt.Axis(
            values=Y_MINOR, labels=False, title=None, tickSize=3, domain=False,
            grid=False, tickColor="black", orient="right")),
    )
    major = base.encode(
        x=alt.X("hour:Q", scale=XS, axis=alt.Axis(
            values=X_MAJOR, labelExpr=label_expr, title="time", tickSize=6,
            domain=False, grid=True, gridColor="#aaaaaa", gridWidth=1.2,
            tickColor="black", orient="bottom", labelFont=TICKFONT,
            labelFontSize=8.5, labelColor="black", labelPadding=7,
            titleFont=FONT, titleFontSize=12, titleFontWeight="normal",
            titlePadding=7, labelFlush=False)),
        y=alt.Y("db:Q", scale=YS, axis=alt.Axis(
            values=Y_MAJOR, title="dB SPL", tickSize=6, domain=False,
            grid=True, gridColor="#aaaaaa", gridWidth=1.4, tickColor="black",
            orient="left", labelFont=TICKFONT, labelFontSize=8.5,
            labelColor="black", labelPadding=3, titleFont=FONT,
            titleFontSize=12, titleFontWeight="normal", titlePadding=8,
            labelFlush=False)),
    )
    major_r = base.encode(
        x=alt.X("hour:Q", scale=XS, axis=None),
        y=alt.Y("db:Q", scale=YS, axis=alt.Axis(
            values=Y_MAJOR, title="dB SPL", tickSize=6, domain=False,
            grid=False, tickColor="black", orient="right",
            labelFont=TICKFONT, labelFontSize=8.5, labelColor="black",
            labelPadding=3, titleFont=FONT, titleFontSize=12,
            titleFontWeight="normal", titlePadding=20, titleAngle=270,
            labelFlush=False)),
    )
    return [minor, minor_r, major, major_r]


# ---------------- top panel ----------------
top_legend = alt.Legend(
    title=None, orient="bottom-right", columns=2, offset=5, padding=5,
    fillColor=BG, strokeColor="#d8c08f", cornerRadius=3,
    labelFont=FONT, labelFontSize=10.5, labelColor="black",
    rowPadding=0, columnPadding=12, symbolOpacity=1, labelLimit=200,
    labelOffset=16,
)
peaks = alt.Chart(peak_df).mark_point(filled=True, opacity=1).encode(
    x=alt.X("hour:Q", scale=XS, axis=None),
    y=alt.Y("db:Q", scale=YS, axis=None),
    color=alt.Color("series:N", scale=alt.Scale(domain=TOP_DOMAIN, range=TOP_COLORS), legend=top_legend),
    shape=alt.Shape("series:N", scale=alt.Scale(domain=TOP_DOMAIN, range=TOP_SHAPES), legend=top_legend),
    size=alt.Size("series:N", scale=alt.Scale(type="ordinal", domain=TOP_DOMAIN, range=TOP_SIZES),
                  legend=top_legend),
)
avgs = alt.Chart(avg_df).mark_line(strokeWidth=1.3).encode(
    x=alt.X("hour:Q", scale=XS, axis=None),
    y=alt.Y("db:Q", scale=YS, axis=None),
    color=alt.Color("series:N", scale=alt.Scale(domain=TOP_DOMAIN, range=TOP_COLORS), legend=top_legend),
)
top = alt.layer(
    *axis_layers(avg_df, "(datum.value < 10 ? '0' : '') + datum.value + ':00'"),
    peaks, avgs,
).resolve_axis(x="independent", y="independent").properties(
    width=W, height=H,
    title=alt.TitleParams("average and peak noise level (1 min sampling)", anchor="start",
                          frame="group", font=FONT, fontSize=12, fontWeight="bold",
                          offset=0, color="black"),
)

# ---------------- bottom panel ----------------
env = alt.Chart(env_df).mark_area(color="#ee9a9a", opacity=0.38, interpolate="linear").encode(
    x=alt.X("hour:Q", scale=XS, axis=None),
    y=alt.Y("lo:Q", scale=YS, axis=None),
    y2="hi:Q",
)
bot_lines = alt.Chart(bot_df).mark_line(strokeWidth=1.8).encode(
    x=alt.X("hour:Q", scale=XS, axis=None),
    y=alt.Y("db:Q", scale=YS, axis=None),
    color=alt.Color("chan:N", scale=alt.Scale(domain=BOT_DOMAIN, range=BOT_COLORS),
                    legend=alt.Legend(title=None, orient="bottom-right", offset=5, padding=5,
                                      fillColor=BG, strokeColor="#d8c08f", cornerRadius=3,
                                      labelFont=FONT, labelFontSize=10.5, labelColor="black",
                                      rowPadding=0, symbolType=BOT_SYMBOL, symbolStrokeWidth=3.5,
                                      symbolSize=130, labelOffset=16)),
    order=alt.Order("chan:N", sort="descending"),
)
bottom = alt.layer(
    *axis_layers(bot_df, "(datum.value < 10 ? '0' : '') + datum.value + ':00:00'"),
    env, bot_lines,
).resolve_axis(x="independent", y="independent").properties(
    width=W, height=H,
    title=alt.TitleParams("average noise level (5 min with 15s min/max dB envelope)", anchor="start",
                          frame="group", font=FONT, fontSize=12, fontWeight="bold",
                          offset=0, color="black"),
)

chart = alt.vconcat(top, bottom, spacing=0).resolve_scale(
    color="independent", shape="independent", size="independent"
).resolve_legend(color="independent", shape="independent", size="independent").properties(
    title=alt.TitleParams(["data from [425/mic0]", "starting point is [20240201_000053]"],
                          anchor="start", font=FONT, fontSize=13, fontWeight="bold",
                          lineHeight=16, offset=21, dx=8, color="black"),
    padding={"left": 6, "right": 2, "top": 6, "bottom": 0},
    background="white",
).configure_view(fill=BG, stroke="black", strokeWidth=1.5)

chart.save("out.html", embed_options={"renderer": "svg", "actions": False})
